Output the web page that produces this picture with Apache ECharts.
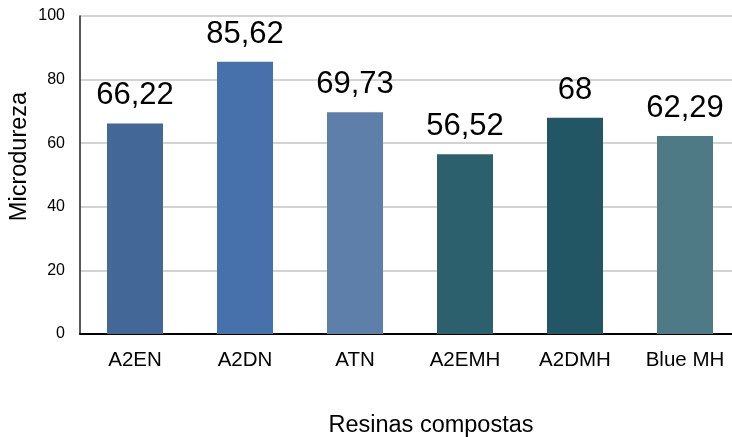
<!DOCTYPE html>
<html>
<head>
<meta charset="utf-8">
<script src="https://cdn.jsdelivr.net/npm/echarts@6/dist/echarts.min.js"></script>
<style>html,body{margin:0;padding:0;background:#fff;}#c{width:732px;height:437px;}</style>
</head>
<body>
<div id="c"></div>
<script>
const categories = ['A2EN', 'A2DN', 'ATN', 'A2EMH', 'A2DMH', 'Blue MH'];
const values = [66.22, 85.62, 69.73, 56.52, 68, 62.29];
const yTicks = [0, 20, 40, 60, 80, 100];
const barColors = ['#436796', '#4771AA', '#5E7FA9', '#2C606D', '#225664', '#4E7A86'];

const FONT = 'Liberation Sans, Arial, sans-serif';
const chart = echarts.init(document.getElementById('c'));
chart.setOption({
  animation: false,
  backgroundColor: '#fff',
  grid: { left: 80, top: 16, height: 318, width: 660, containLabel: false, outerBoundsMode: 'none' },
  xAxis: {
    type: 'category',
    data: categories,
    name: 'Resinas compostas',
    nameLocation: 'middle',
    nameGap: 80,
    nameTextStyle: { fontFamily: FONT, fontSize: 23.5, color: '#000', padding: [0, 0, 0, 42] },
    axisLine: { lineStyle: { color: '#000', width: 2 } },
    axisTick: { show: false },
    axisLabel: { fontFamily: FONT, fontSize: 20.5, color: '#000', margin: 16 }
  },
  yAxis: {
    type: 'value',
    min: yTicks[0],
    max: yTicks[yTicks.length - 1],
    interval: yTicks[1] - yTicks[0],
    name: 'Microdureza',
    nameLocation: 'middle',
    nameGap: 48,
    nameMoveOverlap: false,
    nameRotate: 90,
    nameTextStyle: { fontFamily: FONT, fontSize: 23.5, color: '#000', padding: [0, 0, 0, 37] },
    axisLine: { show: true, lineStyle: { color: '#222', width: 1.5 } },
    axisTick: { show: false },
    axisLabel: { fontFamily: FONT, fontSize: 16, color: '#000', margin: 15 },
    splitLine: { lineStyle: { color: '#c4c4c4', width: 1.5 } }
  },
  series: [{
    type: 'bar',
    barWidth: 56,
    data: values.map((v, i) => ({ value: v, itemStyle: { color: barColors[i] } })),
    label: {
      show: true,
      position: 'top',
      distance: 12,
      fontFamily: FONT,
      fontSize: 31,
      color: '#000',
      formatter: p => String(p.value).replace('.', ',')
    }
  }]
});
</script>
</body>
</html>
